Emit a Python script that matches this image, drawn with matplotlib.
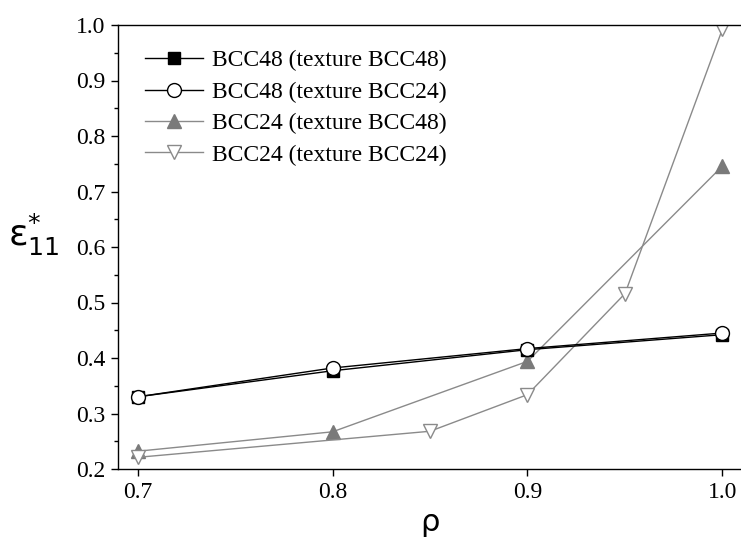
import matplotlib
matplotlib.use("Agg")
import matplotlib.pyplot as plt
from matplotlib.ticker import MultipleLocator

rho_a = [0.7, 0.8, 0.9, 1.0]
bcc48_t48 = [0.330, 0.377, 0.415, 0.442]
bcc48_t24 = [0.330, 0.382, 0.417, 0.445]
bcc24_t48 = [0.232, 0.267, 0.394, 0.746]
rho_b = [0.7, 0.85, 0.9, 0.95, 1.0]
bcc24_t24 = [0.221, 0.268, 0.334, 0.516, 0.993]

labels = ["BCC48 (texture BCC48)", "BCC48 (texture BCC24)",
          "BCC24 (texture BCC48)", "BCC24 (texture BCC24)"]

plt.rcParams['font.family'] = ['Liberation Serif', 'DejaVu Serif']
plt.rcParams['mathtext.fontset'] = 'dejavusans'

fig = plt.figure(figsize=(7.41, 5.38), dpi=100)
ax = fig.add_axes([118/741, 69/538, 624/741, 444/538])

gray = '#8a8a8a'
ax.plot(rho_a, bcc48_t48, color='black', lw=1.0, marker='s', ms=8,
        mfc='black', mec='black', label=labels[0], zorder=3)
ax.plot(rho_a, bcc48_t24, color='black', lw=1.0, marker='o', ms=10,
        mfc='white', mec='black', mew=1.0, label=labels[1], zorder=4)
ax.plot(rho_a, bcc24_t48, color=gray, lw=1.0, marker='^', ms=10,
        mfc='#7a7a7a', mec='#7a7a7a', label=labels[2], zorder=2)
ax.plot(rho_b, bcc24_t24, color=gray, lw=1.0, marker='v', ms=10,
        mfc='white', mec=gray, mew=1.0, label=labels[3], zorder=2)

ax.set_xlim(0.69, 1.01)
ax.set_ylim(0.2, 1.0)
ax.set_xticks([0.7, 0.8, 0.9, 1.0])
ax.set_yticks([0.2, 0.3, 0.4, 0.5, 0.6, 0.7, 0.8, 0.9, 1.0])
ax.yaxis.set_minor_locator(MultipleLocator(0.05))
ax.tick_params(axis='both', which='major', direction='out', length=5,
               width=1.0, labelsize=17, pad=4)
ax.tick_params(axis='y', which='minor', direction='out', length=3, width=1.0)
for s in ax.spines.values():
    s.set_linewidth(1.0)
ax.spines['right'].set_visible(False)

ax.set_xlabel(r'$\mathrm{\rho}$', fontsize=22, labelpad=0)
ax.xaxis.set_label_coords((430-118)/624, -0.092)
ax.set_ylabel(r'$\mathrm{\varepsilon}^{*}_{11}$', fontsize=26, rotation=0)
ax.yaxis.set_label_coords(-0.135, 0.475)

leg = ax.legend(loc='upper left', bbox_to_anchor=(0.043, 0.944), frameon=False,
                fontsize=17, handlelength=2.45, handletextpad=0.38,
                labelspacing=0.42, borderaxespad=0.0, borderpad=0.0)

fig.savefig('out.png', dpi=100)
